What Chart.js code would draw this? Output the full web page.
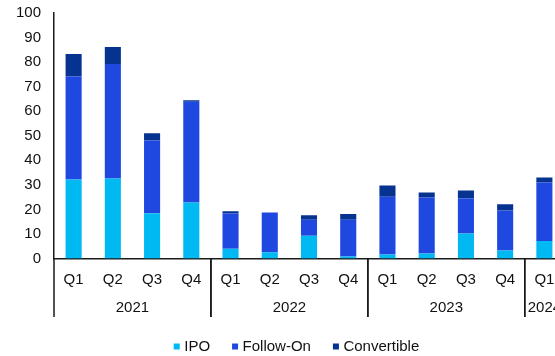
<!DOCTYPE html>
<html>
<head>
<meta charset="utf-8">
<script src="https://cdn.jsdelivr.net/npm/chart.js@4"></script>
<style>
  html, body { margin: 0; padding: 0; background: #fff; overflow: hidden; }
  #wrap { width: 596px; height: 370px; }
</style>
</head>
<body>
<div id="wrap"><canvas id="chart" width="596" height="370"></canvas></div>
<script>
const quarters = ['Q1', 'Q2', 'Q3', 'Q4', 'Q1', 'Q2', 'Q3', 'Q4', 'Q1', 'Q2', 'Q3', 'Q4', 'Q1'];
const yearOf = ['2021', '2021', '2021', '2021', '2022', '2022', '2022', '2022', '2023', '2023', '2023', '2023', '2024'];

const ipo = [32.2, 32.6, 18.4, 22.8, 4.0, 2.5, 9.3, 0.8, 1.6, 2.0, 10.2, 3.3, 7.1];
const followOn = [41.9, 46.6, 29.7, 41.0, 14.3, 16.2, 6.5, 15.0, 23.6, 22.8, 14.2, 16.3, 23.9];
const convertible = [9.2, 7.0, 2.9, 0.7, 0.9, 0.0, 1.8, 2.3, 4.5, 2.1, 3.3, 2.5, 2.0];

const FONT = "'Liberation Sans', Arial, sans-serif";
const AXIS = '#1a1a1a';

// year labels + separators under the quarter ticks
const yearBands = {
  id: 'yearBands',
  afterDraw(chart) {
    const { ctx, chartArea, scales: { x } } = chart;
    const half = (x.getPixelForValue(1) - x.getPixelForValue(0)) / 2;
    const bottom = 317;
    ctx.save();
    ctx.strokeStyle = AXIS;
    ctx.lineWidth = 1.5;
    ctx.fillStyle = '#111';
    ctx.font = `15px ${FONT}`;
    ctx.textAlign = 'center';
    ctx.textBaseline = 'middle';
    let start = 0;
    for (let i = 1; i <= yearOf.length; i++) {
      if (i === yearOf.length || yearOf[i] !== yearOf[start]) {
        const left = x.getPixelForValue(start) - half;
        const right = x.getPixelForValue(i - 1) + half;
        ctx.beginPath();
        ctx.moveTo(left, chartArea.bottom);
        ctx.lineTo(left, bottom);
        ctx.moveTo(right, chartArea.bottom);
        ctx.lineTo(right, bottom);
        ctx.stroke();
        ctx.fillText(yearOf[start], (left + right) / 2, 308);
        start = i;
      }
    }
    ctx.restore();
  }
};

const ctx = document.getElementById('chart');

new Chart(ctx, {
  type: 'bar',
  data: {
    labels: quarters,
    datasets: [
      { label: 'IPO', data: ipo, backgroundColor: '#00B9F2' },
      { label: 'Follow-On', data: followOn, backgroundColor: '#1F48E0' },
      { label: 'Convertible', data: convertible, backgroundColor: '#05338F' }
    ]
  },
  options: {
    responsive: false,
    animation: false,
    layout: { padding: { top: 13, bottom: 6, left: 0, right: 0 } },
    datasets: {
      bar: { categoryPercentage: 0.41, barPercentage: 1, borderWidth: 0 }
    },
    plugins: {
      tooltip: { enabled: false },
      legend: {
        position: 'bottom',
        labels: {
          usePointStyle: true,
          pointStyle: 'rect',
          boxWidth: 0.01,
          boxHeight: 6,
          padding: 25,
          color: '#111',
          font: { family: FONT, size: 15 }
        }
      }
    },
    scales: {
      x: {
        stacked: true,
        grid: { display: false, drawTicks: false },
        border: { display: true, color: AXIS, width: 1.5 },
        ticks: { autoSkip: false, maxRotation: 0, padding: 12, color: '#111', font: { family: FONT, size: 15 } },
        afterFit: s => { s.height = 55.5; }
      },
      y: {
        stacked: true, min: 0, max: 100,
        grid: { display: false, drawTicks: false },
        border: { display: true, color: AXIS, width: 1.5 },
        ticks: { stepSize: 10, padding: 13, color: '#111', font: { family: FONT, size: 15 } },
        afterFit: s => { s.width = 54; s.paddingTop = 0; s.paddingBottom = 0; }
      },
      pad: {
        position: 'right', display: true,
        grid: { display: false, drawTicks: false },
        border: { display: false },
        ticks: { display: false },
        afterFit: s => { s.width = 32; }
      }
    }
  },
  plugins: [yearBands]
});
</script>
</body>
</html>
